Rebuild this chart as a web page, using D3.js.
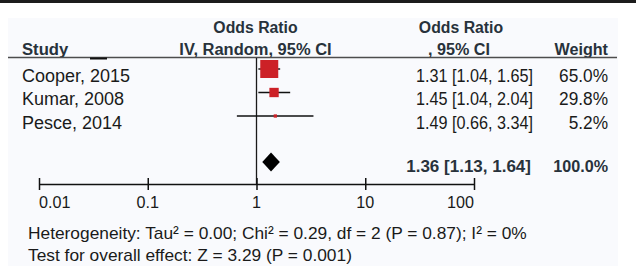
<!DOCTYPE html>
<html>
<head>
<meta charset="utf-8">
<script src="https://cdn.jsdelivr.net/npm/d3@7"></script>
<style>
  html, body { margin: 0; padding: 0; background: #ffffff; }
  svg { display: block; font-family: "Liberation Sans", Arial, sans-serif; }
</style>
</head>
<body>
<svg id="forest-svg"></svg>
<script>
// Forest plot data
const studies = ['Cooper, 2015', 'Kumar, 2008', 'Pesce, 2014'];
const oddsRatios = [1.31, 1.45, 1.49];
const ciLower = [1.04, 1.04, 0.66];
const ciUpper = [1.65, 2.04, 3.34];
const weights = [65.0, 29.8, 5.2];

const pooledOR = 1.36;
const pooledLower = 1.13;
const pooledUpper = 1.64;
const pooledWeight = 100.0;

const axisTicks = [0.01, 0.1, 1, 10, 100];
const axisTickLabels = ['0.01', '0.1', '1', '10', '100'];

const headerTop = ['Odds Ratio', 'Odds Ratio'];
const headerBottom = ['Study', 'IV, Random, 95% CI', ', 95% CI', 'Weight'];
const footnotes = [
    'Heterogeneity: Tau\u00b2 = 0.00; Chi\u00b2 = 0.29, df = 2 (P = 0.87); I\u00b2 = 0%',
    'Test for overall effect: Z = 3.29 (P = 0.001)'
];

const width = 636;
const height = 266;

const svg = d3.select('#forest-svg')
    .attr('width', width)
    .attr('height', height);

// Frame: dark band on top, pale panel behind the plot
svg.append('rect').attr('x', 0).attr('y', 0).attr('width', width).attr('height', height).attr('fill', '#ffffff');
svg.append('rect').attr('x', 0).attr('y', 0).attr('width', width).attr('height', 3).attr('fill', '#1c1c1c');
svg.append('rect').attr('x', 8).attr('y', 18).attr('width', 610).attr('height', height - 18).attr('fill', '#f9fafd');

// Scales
const x = d3.scaleLog().domain([0.01, 100]).range([39, 474]);
const y = d3.scalePoint().domain(studies).range([69, 116]);
const boxSize = d3.scaleLinear().domain([0, 65]).range([2, 18]);
const pooledY = 162;
const textOffset = 12.5;

// Helper: text squeezed horizontally to mimic the narrow original font
function label(parent, px, py, str, opts = {}) {
    const sx = opts.sx || 1;
    return parent.append('text')
        .attr('transform', `translate(${px},${py}) scale(${sx},1)`)
        .attr('text-anchor', opts.anchor || 'start')
        .style('font-size', (opts.size || 18) + 'px')
        .style('font-weight', opts.bold ? 'bold' : 'normal')
        .attr('fill', opts.fill || '#1a1a1a')
        .text(str);
}

const headColor = '#28323b';

// Column headers
label(svg, x(1) - 1, 33, headerTop[0], { anchor: 'middle', bold: true, size: 17, sx: 0.93, fill: headColor });
label(svg, 461, 33, headerTop[1], { anchor: 'middle', bold: true, size: 17, sx: 0.93, fill: headColor });
label(svg, 22, 55, headerBottom[0], { bold: true, size: 17, sx: 0.98, fill: headColor });
label(svg, x(1) - 1, 55, headerBottom[1], { anchor: 'middle', bold: true, size: 17, sx: 0.97, fill: headColor });
label(svg, 459, 55, headerBottom[2], { anchor: 'middle', bold: true, size: 17, sx: 0.95, fill: headColor });
label(svg, 608, 55, headerBottom[3], { anchor: 'end', bold: true, size: 17, sx: 0.95, fill: headColor });

// Header rule (with the stray mark of the original)
svg.append('line')
    .attr('x1', 8).attr('x2', 617)
    .attr('y1', 57.5).attr('y2', 57.5)
    .attr('stroke', '#4d4d4d')
    .attr('stroke-width', 1.5);
svg.append('line')
    .attr('x1', 90).attr('x2', 107)
    .attr('y1', 58.5).attr('y2', 58.5)
    .attr('stroke', '#111')
    .attr('stroke-width', 2);

// Line of no effect
svg.append('line')
    .attr('x1', x(1)).attr('x2', x(1))
    .attr('y1', 58).attr('y2', 184)
    .attr('stroke', '#1a1a1a')
    .attr('stroke-width', 1.3);

// Study rows
const rows = studies.map((s, i) => ({
    study: s,
    or: oddsRatios[i],
    lo: ciLower[i],
    hi: ciUpper[i],
    w: weights[i]
}));

const rowG = svg.append('g');

rowG.selectAll('line.ci')
    .data(rows)
    .enter()
    .append('line')
    .attr('class', 'ci')
    .attr('x1', d => x(d.lo))
    .attr('x2', d => x(d.hi))
    .attr('y1', d => y(d.study))
    .attr('y2', d => y(d.study))
    .attr('stroke', '#111')
    .attr('stroke-width', 1.4);

rowG.selectAll('rect.box')
    .data(rows)
    .enter()
    .append('rect')
    .attr('class', 'box')
    .attr('x', d => x(d.or) - boxSize(d.w) / 2)
    .attr('y', d => y(d.study) - boxSize(d.w) / 2)
    .attr('width', d => boxSize(d.w))
    .attr('height', d => boxSize(d.w))
    .attr('fill', '#cc2127');

rows.forEach(d => {
    const ty = y(d.study) + textOffset;
    label(rowG, 22, ty, d.study, { sx: 1.0 });
    label(rowG, 533, ty, `${d.or.toFixed(2)} [${d.lo.toFixed(2)}, ${d.hi.toFixed(2)}]`, { anchor: 'end', sx: 0.9 });
    label(rowG, 608, ty, `${d.w.toFixed(1)}%`, { anchor: 'end', sx: 0.96 });
});

// Pooled estimate diamond
const dh = 9.5;
svg.append('path')
    .attr('d', `M${x(pooledLower)},${pooledY} L${x(pooledOR)},${pooledY - dh} L${x(pooledUpper)},${pooledY} L${x(pooledOR)},${pooledY + dh} Z`)
    .attr('fill', '#000');

label(svg, 531, pooledY + 9.5, `${pooledOR.toFixed(2)} [${pooledLower.toFixed(2)}, ${pooledUpper.toFixed(2)}]`,
    { anchor: 'end', bold: true, size: 17, sx: 1.0, fill: headColor });
label(svg, 608, pooledY + 9.5, `${pooledWeight.toFixed(1)}%`, { anchor: 'end', bold: true, size: 17, sx: 0.95, fill: headColor });

// Axis
const axisY = 184;
const axis = svg.append('g')
    .attr('transform', `translate(0,${axisY})`)
    .call(d3.axisBottom(x).tickValues(axisTicks).tickFormat('').tickSizeOuter(0));
axis.select('.domain').attr('stroke', '#111').attr('stroke-width', 1.5);
axis.selectAll('.tick line')
    .attr('y1', -6).attr('y2', 6)
    .attr('stroke', '#111')
    .attr('stroke-width', 1.5);

axisTicks.forEach((t, i) => {
    const anchor = i === 0 ? 'start' : (i === axisTicks.length - 1 ? 'end' : 'middle');
    label(svg, x(t), 208, axisTickLabels[i], { anchor: anchor, size: 17, sx: 0.95 });
});

// Footnotes
label(svg, 28, 239, footnotes[0], { size: 17, sx: 1.02 });
label(svg, 28, 261, footnotes[1], { size: 17, sx: 1.02 });
</script>
</body>
</html>
